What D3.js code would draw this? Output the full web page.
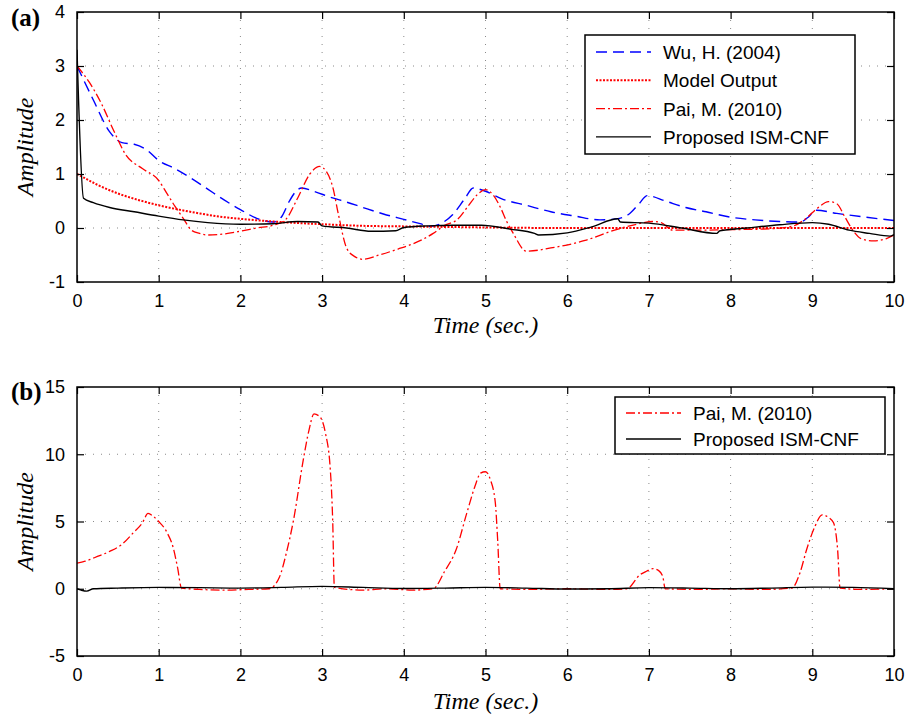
<!DOCTYPE html>
<html>
<head>
<meta charset="utf-8">
<script src="https://cdn.jsdelivr.net/npm/d3@7"></script>
<style>
  body { margin: 0; background: #fff; }
  svg { display: block; }
</style>
</head>
<body>
<div id="chart"></div>
<script>
// ---- data ----
const xTicks = [0, 1, 2, 3, 4, 5, 6, 7, 8, 9, 10];
const yTicksA = [-1, 0, 1, 2, 3, 4];
const yTicksB = [-5, 0, 5, 10, 15];

// (a) Wu, H. (2004)
const wuT = [0, 0.2, 0.4, 0.55, 0.7, 0.85, 1.0, 1.2, 1.4, 1.6, 1.8, 2.0, 2.2, 2.4, 2.5, 2.6, 2.68, 2.75, 2.9, 3.1, 3.3, 3.5, 3.75, 4.0, 4.2, 4.32, 4.45, 4.6, 4.75, 4.85, 5.0, 5.2, 5.5, 5.8, 6.1, 6.4, 6.6, 6.75, 6.88, 6.98, 7.2, 7.45, 7.7, 8.0, 8.3, 8.6, 8.85, 8.95, 9.05, 9.3, 9.6, 10];
const wuV = [3.0, 2.37, 1.78, 1.58, 1.55, 1.45, 1.25, 1.1, 0.92, 0.72, 0.52, 0.34, 0.18, 0.11, 0.2, 0.5, 0.68, 0.74, 0.68, 0.57, 0.48, 0.38, 0.26, 0.16, 0.08, 0.03, 0.08, 0.25, 0.55, 0.74, 0.68, 0.54, 0.42, 0.3, 0.22, 0.15, 0.17, 0.25, 0.45, 0.6, 0.5, 0.38, 0.3, 0.2, 0.15, 0.12, 0.11, 0.2, 0.33, 0.27, 0.21, 0.14];

// (a) Model Output
const modelT = [0, 0.1, 0.25, 0.5, 0.75, 1.0, 1.25, 1.5, 1.75, 2.0, 2.5, 3.0, 3.5, 4.0, 4.5, 5, 6, 7, 8, 9, 10];
const modelV = [1.0, 0.92, 0.8, 0.64, 0.52, 0.42, 0.34, 0.27, 0.21, 0.17, 0.11, 0.07, 0.04, 0.03, 0.02, 0.01, 0, 0, 0, 0, 0];

// (a) Pai, M. (2010)
const paiAT = [0, 0.15, 0.3, 0.45, 0.6, 0.8, 1.0, 1.1, 1.2, 1.3, 1.4, 1.5, 1.6, 1.8, 2.0, 2.2, 2.4, 2.55, 2.7, 2.85, 2.97, 3.05, 3.13, 3.2, 3.3, 3.4, 3.5, 3.7, 3.93, 4.1, 4.36, 4.5, 4.65, 4.79, 4.9, 5.0, 5.1, 5.18, 5.26, 5.34, 5.5, 5.8, 6.22, 6.58, 6.85, 7.05, 7.15, 7.29, 7.6, 8.0, 8.4, 8.75, 8.9, 9.05, 9.2, 9.3, 9.4, 9.5, 9.6, 9.75, 9.9, 10];
const paiAV = [3.0, 2.7, 2.3, 1.8, 1.35, 1.1, 0.88, 0.64, 0.4, 0.18, -0.04, -0.1, -0.13, -0.11, -0.06, 0.0, 0.05, 0.15, 0.55, 1.0, 1.14, 1.05, 0.76, 0.25, -0.37, -0.53, -0.58, -0.5, -0.39, -0.3, -0.1, 0.05, 0.15, 0.41, 0.62, 0.71, 0.6, 0.39, 0.12, -0.1, -0.43, -0.37, -0.23, -0.04, 0.07, 0.12, 0.1, -0.04, -0.04, -0.03, -0.02, 0.03, 0.15, 0.35, 0.49, 0.45, 0.2, -0.05, -0.2, -0.24, -0.2, -0.13];

// (a) Proposed ISM-CNF
const ismAT = [0, 0.08, 0.2, 0.4, 0.7, 1.0, 1.3, 1.6, 2.0, 2.4, 2.7, 2.95, 3.0, 3.3, 3.6, 3.9, 4.0, 4.3, 4.6, 4.95, 5.3, 5.6, 5.65, 6.0, 6.3, 6.62, 6.65, 7.0, 7.4, 7.83, 7.87, 8.2, 8.6, 9.0, 9.2, 9.45, 9.7, 9.95, 10];
const ismAV = [3.3, 0.55, 0.47, 0.38, 0.3, 0.22, 0.15, 0.1, 0.07, 0.08, 0.12, 0.11, 0.04, 0.0, -0.06, -0.05, 0.01, 0.04, 0.05, 0.05, -0.02, -0.1, -0.13, -0.09, 0.02, 0.17, 0.11, 0.09, 0.0, -0.1, -0.05, 0.0, 0.06, 0.1, 0.07, -0.04, -0.1, -0.15, -0.12];

// (b) Pai, M. (2010)
const paiBT = [0, 0.1, 0.25, 0.4, 0.55, 0.69, 0.8, 0.87, 0.93, 1.0, 1.1, 1.18, 1.23, 1.28, 1.5, 1.8, 2.1, 2.35, 2.48, 2.56, 2.65, 2.77, 2.84, 2.9, 2.97, 3.04, 3.1, 3.13, 3.15, 3.5, 3.8, 4.1, 4.36, 4.5, 4.64, 4.77, 4.87, 4.94, 5.0, 5.06, 5.12, 5.15, 5.18, 5.5, 6.0, 6.5, 6.73, 6.89, 6.97, 7.05, 7.12, 7.17, 7.2, 7.6, 8.0, 8.4, 8.75, 8.85, 8.93, 9.03, 9.12, 9.2, 9.26, 9.31, 9.34, 9.6, 10];
const paiBV = [1.9, 2.05, 2.4, 2.78, 3.3, 4.17, 4.9, 5.6, 5.4, 5.0, 4.2, 3.0, 1.6, 0.05, -0.05, -0.1, -0.05, 0.0, 0.9, 2.6, 5.1, 9.6, 11.8, 13.0, 12.8, 11.6, 8.9, 5.0, 0.1, -0.1, 0.0, -0.1, 0.0, 1.3, 2.9, 5.6, 7.6, 8.6, 8.7, 8.1, 6.4, 3.5, 0.0, -0.05, 0.0, -0.05, 0.0, 1.04, 1.3, 1.49, 1.35, 0.9, 0.0, -0.05, 0.0, -0.05, 0.05, 1.2, 2.9, 4.6, 5.5, 5.3, 4.9, 2.9, 0.05, -0.05, 0.0];

// (b) Proposed ISM-CNF
const ismBT = [0, 0.05, 0.12, 0.2, 0.5, 1.0, 1.5, 2.0, 2.5, 3.0, 3.5, 4.0, 4.5, 5.0, 5.5, 6.0, 6.5, 7.0, 7.5, 8.0, 8.5, 9.0, 9.5, 10];
const ismBV = [0.0, -0.1, -0.18, 0.0, 0.05, 0.1, 0.08, 0.05, 0.1, 0.18, 0.1, 0.02, 0.05, 0.1, 0.05, -0.02, 0.0, 0.08, 0.05, 0.0, 0.05, 0.12, 0.1, 0.0];

const styles = {
  wu:    { color: '#0000ff', width: 1.4, dash: '11,6' },
  model: { color: '#ff0000', width: 2,   dash: '2,1.5' },
  pai:   { color: '#ff0000', width: 1.3, dash: '9,3,2,3' },
  ism:   { color: '#000000', width: 1.4, dash: null },
};

const zip = (t, v) => t.map((d, i) => [d, v[i]]);

const svg = d3.select('#chart').append('svg')
  .attr('width', 917)
  .attr('height', 720);

const renderPanel = (cfg) => {
  const { left, right, top, bottom, yDomain, yTicks, series, legend, tag, tagY, xTitleY } = cfg;

  const x = d3.scaleLinear().domain([0, 10]).range([left, right]);
  const y = d3.scaleLinear().domain(yDomain).range([bottom, top]);

  const g = svg.append('g');
  const clipId = 'clip-' + tag.replace(/\W/g, '');
  g.append('clipPath').attr('id', clipId)
    .append('rect')
    .attr('x', left).attr('y', top)
    .attr('width', right - left).attr('height', bottom - top);

  // grid
  g.selectAll('.vgrid')
    .data(xTicks.slice(1, -1))
    .join('line')
      .attr('x1', d => x(d)).attr('x2', d => x(d))
      .attr('y1', top).attr('y2', bottom)
      .attr('stroke', '#8a8a8a').attr('stroke-width', 1)
      .attr('stroke-dasharray', '1,7');
  g.selectAll('.hgrid')
    .data(yTicks.slice(1, -1))
    .join('line')
      .attr('x1', left).attr('x2', right)
      .attr('y1', d => y(d)).attr('y2', d => y(d))
      .attr('stroke', '#8a8a8a').attr('stroke-width', 1)
      .attr('stroke-dasharray', '1,7');

  // data
  const line = d3.line()
    .x(d => x(d[0]))
    .y(d => y(d[1]))
    .curve(d3.curveMonotoneX);

  g.append('g').attr('clip-path', `url(#${clipId})`)
    .selectAll('path')
    .data(series)
    .join('path')
      .attr('fill', 'none')
      .attr('stroke', d => styles[d.key].color)
      .attr('stroke-width', d => styles[d.key].width)
      .attr('stroke-dasharray', d => styles[d.key].dash)
      .attr('d', d => line(d.points));

  // axes: ticks inward on all four sides
  const tickLen = 7;
  const fmt = d => String(d);
  const axisBottom = d3.axisBottom(x).tickValues(xTicks).tickSize(-tickLen).tickPadding(12).tickFormat(fmt);
  const axisTop = d3.axisTop(x).tickValues(xTicks).tickSize(-tickLen).tickFormat('');
  const axisLeft = d3.axisLeft(y).tickValues(yTicks).tickSize(-tickLen).tickPadding(12).tickFormat(fmt);
  const axisRight = d3.axisRight(y).tickValues(yTicks).tickSize(-tickLen).tickFormat('');

  const ax = [
    g.append('g').attr('transform', `translate(0,${bottom})`).call(axisBottom),
    g.append('g').attr('transform', `translate(0,${top})`).call(axisTop),
    g.append('g').attr('transform', `translate(${left},0)`).call(axisLeft),
    g.append('g').attr('transform', `translate(${right},0)`).call(axisRight),
  ];
  ax.forEach(a => {
    a.select('.domain').remove();
    a.selectAll('line').attr('stroke', '#000').attr('stroke-width', 1.2);
    a.selectAll('text')
      .attr('fill', '#000')
      .style('font-family', 'Liberation Sans, Arial, sans-serif')
      .style('font-size', '18px');
  });

  g.append('rect')
    .attr('x', left).attr('y', top)
    .attr('width', right - left).attr('height', bottom - top)
    .attr('fill', 'none').attr('stroke', '#000').attr('stroke-width', 1.5);

  // titles
  g.append('text')
    .attr('transform', `translate(33,${(top + bottom) / 2}) rotate(-90)`)
    .attr('text-anchor', 'middle')
    .style('font-family', 'Liberation Serif, Times New Roman, serif')
    .style('font-style', 'italic')
    .style('font-size', '24px')
    .text('Amplitude');

  g.append('text')
    .attr('x', (left + right) / 2).attr('y', xTitleY)
    .attr('text-anchor', 'middle')
    .style('font-family', 'Liberation Serif, Times New Roman, serif')
    .style('font-style', 'italic')
    .style('font-size', '24px')
    .text('Time (sec.)');

  g.append('text')
    .attr('x', 11).attr('y', tagY)
    .style('font-family', 'Liberation Serif, Times New Roman, serif')
    .style('font-weight', 'bold')
    .style('font-size', '25px')
    .text(tag);

  // legend
  const lg = g.append('g');
  lg.append('rect')
    .attr('x', legend.x).attr('y', legend.y)
    .attr('width', legend.w).attr('height', legend.h)
    .attr('fill', '#fff').attr('stroke', '#000').attr('stroke-width', 1.5);
  const rows = lg.selectAll('.row')
    .data(series)
    .join('g')
      .attr('transform', (d, i) => `translate(${legend.x},${legend.y + legend.first + i * legend.step})`);
  rows.append('line')
    .attr('x1', 11).attr('x2', 66)
    .attr('stroke', d => styles[d.key].color)
    .attr('stroke-width', d => styles[d.key].width)
    .attr('stroke-dasharray', d => styles[d.key].dash);
  rows.append('text')
    .attr('x', 78).attr('y', 7)
    .style('font-family', 'Liberation Sans, Arial, sans-serif')
    .style('font-size', '19px')
    .text(d => d.label);
};

renderPanel({
  left: 77, right: 894, top: 12, bottom: 282,
  yDomain: [-1, 4], yTicks: yTicksA,
  tag: '(a)', tagY: 26, xTitleY: 333,
  legend: { x: 585, y: 35, w: 270, h: 119, first: 17, step: 28.3 },
  series: [
    { key: 'wu', label: 'Wu, H. (2004)', points: zip(wuT, wuV) },
    { key: 'model', label: 'Model Output', points: zip(modelT, modelV) },
    { key: 'pai', label: 'Pai, M. (2010)', points: zip(paiAT, paiAV) },
    { key: 'ism', label: 'Proposed ISM-CNF', points: zip(ismAT, ismAV) },
  ],
});

renderPanel({
  left: 77, right: 894, top: 387, bottom: 656,
  yDomain: [-5, 15], yTicks: yTicksB,
  tag: '(b)', tagY: 400, xTitleY: 709,
  legend: { x: 615, y: 397, w: 270, h: 57, first: 16, step: 26 },
  series: [
    { key: 'pai', label: 'Pai, M. (2010)', points: zip(paiBT, paiBV) },
    { key: 'ism', label: 'Proposed ISM-CNF', points: zip(ismBT, ismBV) },
  ],
});
</script>
</body>
</html>
